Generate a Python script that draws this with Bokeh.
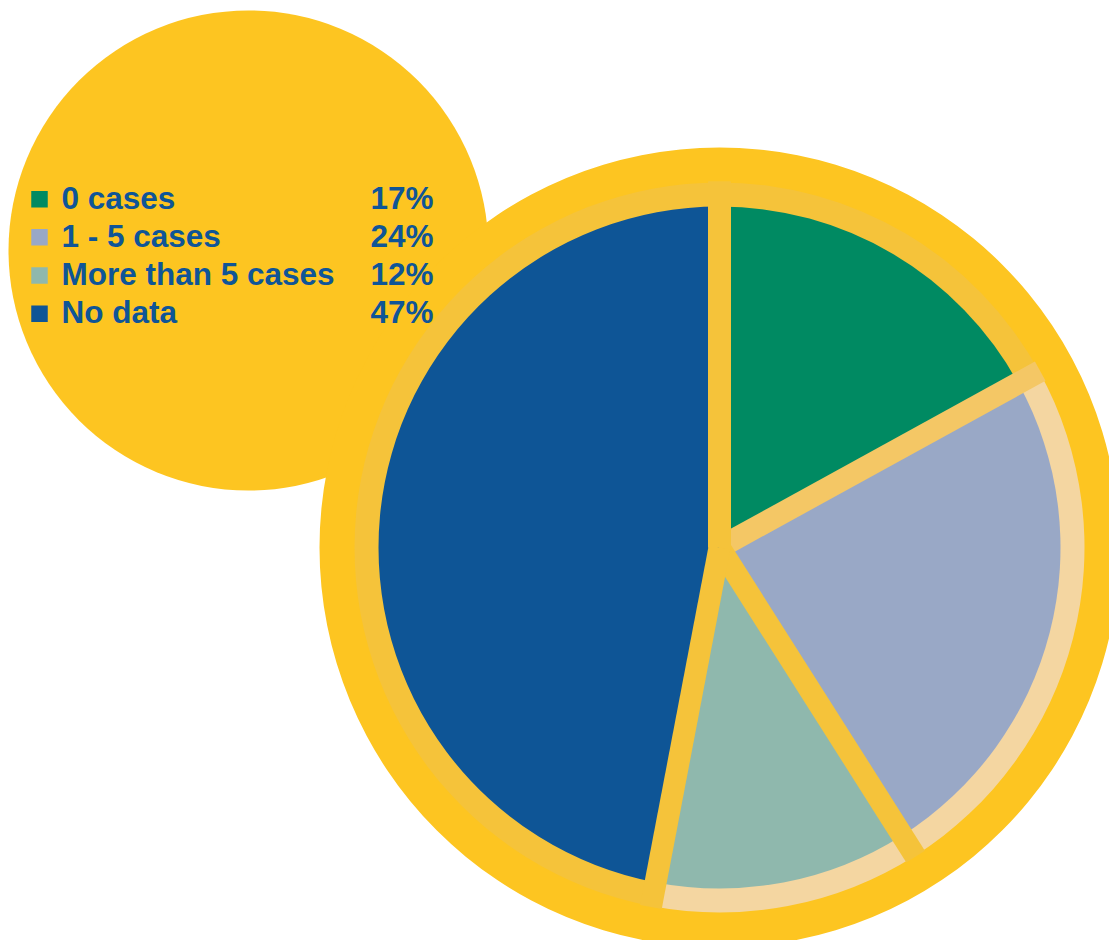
import numpy as np
from bokeh.plotting import figure
from bokeh.models import Range1d, ColumnDataSource
from bokeh.core.properties import value
from bokeh.embed import file_html
from bokeh.resources import INLINE

# ---- data ----
categories = ["0 cases", "1 - 5 cases", "More than 5 cases", "No data"]
shares = [17, 24, 12, 47]
labels = ["17%", "24%", "12%", "47%"]
colors = ["#008A62", "#99A8C6", "#8FB8AD", "#0E5596"]
ring_colors = ["#F5C33A", "#F4D6A1", "#F4D6A1", "#F5C33A"]
line_colors = ["#F5C33A", "#F4C765", "#F5C33A", "#F5C33A"]

W, H = 1109, 940
def Y(img_y):
    return 940 - img_y

p = figure(width=W, height=H, output_backend="svg", toolbar_location=None,
           x_range=Range1d(0, W), y_range=Range1d(940 - H, 940),
           min_border=0)
p.axis.visible = False
p.grid.visible = False
p.outline_line_color = None
p.background_fill_color = "white"
p.border_fill_color = "white"

YELLOW = "#FDC521"
cx, cy = 719, Y(547)

# background circles
p.circle(x=[248], y=[Y(250)], radius=240, fill_color=YELLOW, line_color=None)
p.circle(x=[cx], y=[cy], radius=400, fill_color=YELLOW, line_color=None)
p.circle(x=[cx], y=[cy], radius=364, fill_color="#F5C33A", line_color=None)

# angles
frac = np.array(shares, dtype=float) / sum(shares)
cum = np.concatenate([[0], np.cumsum(frac)])
start = 90 - cum[:-1] * 360
end = 90 - cum[1:] * 360

src = ColumnDataSource(dict(start=start, end=end, color=colors, ring=ring_colors))
p.annular_wedge(x=cx, y=cy, inner_radius=338, outer_radius=365, start_angle="start",
                end_angle="end", start_angle_units="deg", end_angle_units="deg",
                direction="clock", fill_color="ring", line_color=None, source=src)
p.wedge(x=cx, y=cy, radius=341, start_angle="start", end_angle="end",
        start_angle_units="deg", end_angle_units="deg", direction="clock",
        fill_color="color", line_color=None, source=src)

# gap lines at boundaries
bnd = np.deg2rad(start)
for a, lc in zip(bnd, line_colors):
    p.line(x=[cx, cx + 366 * np.cos(a)], y=[cy, cy + 366 * np.sin(a)],
           line_color=lc, line_width=22, line_cap="butt")
p.line(x=[cx, cx], y=[cy, cy + 366], line_color="#F5C33A", line_width=23, line_cap="butt")

# legend
baselines = [207.3, 245.3, 283.5, 321.7]
p.rect(x=[39] * 4, y=[Y(b - 8.5) for b in baselines], width=16.5, height=16.5,
       fill_color=colors, line_color=None)
ys = [Y(b - 10) for b in baselines]
TXT = "#0F5597"
p.text(x=[61] * 4, y=ys, text=categories, text_font=value("Liberation Sans"),
       text_font_style="bold", text_font_size="31.5px", text_color=TXT,
       text_baseline="alphabetic", text_align="left")
p.text(x=[433] * 4, y=ys, text=labels, text_font=value("Liberation Sans"),
       text_font_style="bold", text_font_size="31.5px", text_color=TXT,
       text_baseline="alphabetic", text_align="right")

open("out.html", "w").write(file_html(p, INLINE))
